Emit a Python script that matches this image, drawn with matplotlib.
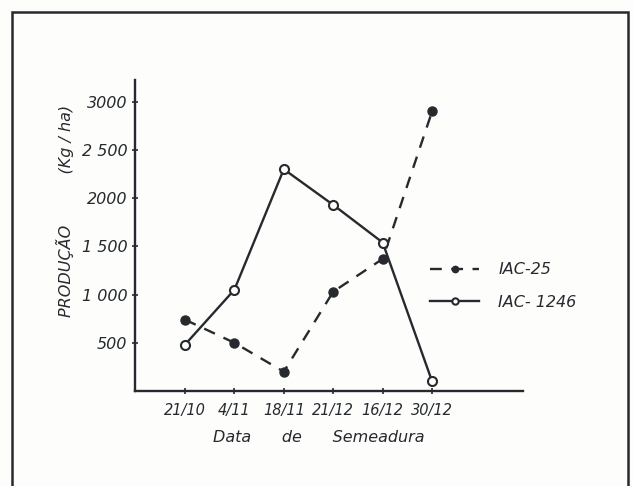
import numpy as np
import matplotlib.pyplot as plt
from matplotlib.patches import Rectangle

datas = ['21/10', '4/11', '18/11', '21/12', '16/12', '30/12']
iac25 = [740, 500, 200, 1030, 1370, 2900]
iac1246 = [480, 1050, 2300, 1930, 1540, 100]
yticks = [500, 1000, 1500, 2000, 2500, 3000]
ytick_labels = ['500', '1 000', '1 500', '2000', '2 500', '3000']

ink = '#262a2e'
plt.rcParams['font.family'] = 'DejaVu Sans'
plt.rcParams['font.style'] = 'italic'

fig = plt.figure(figsize=(6.33, 4.86), dpi=100)
fig.patch.set_facecolor('#fdfdfb')

# frame around the whole figure
fig.patches.append(Rectangle((0.019, -0.05), 0.973, 1.025, transform=fig.transFigure,
                             fill=False, edgecolor=ink, linewidth=1.8))

ax = fig.add_axes([0.2133, 0.1955, 0.613, 0.64])
ax.set_facecolor('none')
x = np.arange(len(datas))

ax.plot(x, iac25, color=ink, linewidth=1.7, dashes=(5, 4), marker='o',
        markersize=6.5, markerfacecolor=ink, markeredgecolor=ink, label='IAC-25')
ax.plot(x, iac1246, color=ink, linewidth=1.7, marker='o', markersize=6.5,
        markerfacecolor='white', markeredgecolor=ink, markeredgewidth=1.5,
        label='IAC- 1246')

ax.set_xlim(-1.01, 6.84)
ax.set_ylim(0, 3226)
ax.set_xticks(x)
ax.set_xticklabels(datas, fontsize=10.5, color=ink)
ax.set_yticks(yticks)
ax.set_yticklabels(ytick_labels, fontsize=11.5, color=ink)
ax.tick_params(axis='both', direction='inout', length=4, width=1.2, color=ink)
ax.tick_params(axis='x', pad=7)
for s in ['top', 'right']:
    ax.spines[s].set_visible(False)
for s in ['left', 'bottom']:
    ax.spines[s].set_color(ink)
    ax.spines[s].set_linewidth(1.7)

ax.set_xlabel('Data      de      Semeadura', fontsize=11.5, color=ink)
ax.xaxis.set_label_coords(0.474, -0.125)
fig.text(0.103, 0.565, 'PRODUÇÃO          (Kg / ha)', rotation=90, fontsize=11.5,
         color=ink, ha='center', va='center')

leg = ax.legend(loc='center left', bbox_to_anchor=(0.679, 0.411), bbox_transform=fig.transFigure,
                frameon=False, fontsize=11.5, handlelength=3.1, handletextpad=1.2,
                labelspacing=1.1, markerscale=0.7, borderaxespad=0, borderpad=0)
for t in leg.get_texts():
    t.set_color(ink)

fig.savefig('out.png', dpi=100, facecolor=fig.get_facecolor())
